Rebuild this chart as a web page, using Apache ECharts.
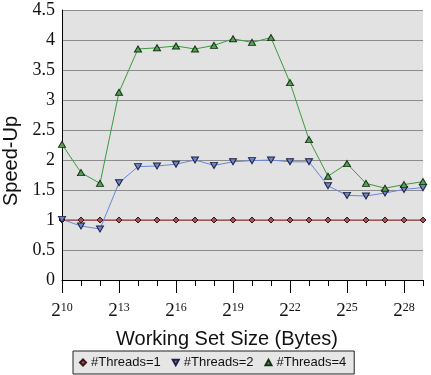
<!DOCTYPE html>
<html>
<head>
<meta charset="utf-8">
<script src="https://cdn.jsdelivr.net/npm/echarts@6/dist/echarts.min.js"></script>
<style>html,body{margin:0;padding:0;background:#fff;}#c{width:431px;height:375px;}</style>
</head>
<body>
<div id="c"></div>
<script>
const exponents = [10,11,12,13,14,15,16,17,18,19,20,21,22,23,24,25,26,27,28,29];
const threads1 = [1,1,1,1,1,1,1,1,1,1,1,1,1,1,1,1,1,1,1,1];
const threads2 = [1.01,0.90,0.85,1.62,1.89,1.90,1.93,2.00,1.91,1.97,1.99,2.00,1.97,1.97,1.57,1.41,1.40,1.45,1.51,1.54];
const threads4 = [2.26,1.79,1.61,3.13,3.85,3.87,3.90,3.85,3.91,4.02,3.96,4.04,3.29,2.34,1.73,1.94,1.61,1.53,1.59,1.64];
const yTicks = [0,0.5,1,1.5,2,2.5,3,3.5,4,4.5];
const seriesNames = ['#Threads=1','#Threads=2','#Threads=4'];

const chart = echarts.init(document.getElementById('c'), null, {renderer:'canvas'});
const serif = 'Liberation Serif';
const sans = 'Liberation Sans';
const downTri = 'path://M0,0L10,0L5,9Z';
const upTri = 'path://M5,0L10,9L0,9Z';
chart.setOption({
  animation: false,
  backgroundColor: '#ffffff',
  grid: {left: 62, right: 8, top: 10, bottom: 95, show: true, backgroundColor: '#e2e2e2', borderWidth: 0},
  xAxis: [{
    type: 'category', data: exponents, boundaryGap: false,
    axisLine: {lineStyle: {color: '#000', width: 1}},
    axisTick: {show: true, interval: 0, length: 6, lineStyle: {color: '#000'}},
    axisLabel: {
      interval: 2, margin: 22,
      formatter: v => '{b|2}{s|' + v + '}',
      rich: {
        b: {fontFamily: serif, fontSize: 19, color: '#111', verticalAlign: 'bottom'},
        s: {fontFamily: serif, fontSize: 12, color: '#111', verticalAlign: 'top', padding: [0,0,5,0]}
      }
    },
    splitLine: {show: false}
  },{
    type: 'category', data: exponents, boundaryGap: false, position: 'bottom',
    axisLine: {show: false},
    axisTick: {show: true, interval: 2, length: 13, lineStyle: {color: '#000'}},
    axisLabel: {show: false},
    splitLine: {show: false}
  }],
  yAxis: {
    type: 'value', min: yTicks[0], max: yTicks[yTicks.length-1], interval: 0.5,
    axisLine: {show: true, lineStyle: {color: '#000', width: 1}},
    axisTick: {show: false},
    axisLabel: {fontFamily: serif, fontSize: 18, color: '#111', margin: 7},
    splitLine: {show: true, lineStyle: {color: '#8c8c8c', width: 1}}
  },
  legend: {
    left: 73, top: 351,
    padding: [5,8,5,6], itemGap: 11, itemWidth: 6, itemHeight: 6,
    backgroundColor: '#e6e6e6', borderColor: '#222', borderWidth: 1,
    textStyle: {fontFamily: sans, fontSize: 13, color: '#111'},
    data: [
      {name: seriesNames[0], icon: 'diamond'},
      {name: seriesNames[1], icon: downTri},
      {name: seriesNames[2], icon: upTri}
    ]
  },
  graphic: [
    {type: 'text', x: 11, y: 161, rotation: Math.PI/2,
     style: {text: 'Speed-Up', font: '20px "Liberation Sans"', fill: '#111', textAlign: 'center', textVerticalAlign: 'middle'}},
    {type: 'text', x: 227, y: 339,
     style: {text: 'Working Set Size (Bytes)', font: '20px "Liberation Sans"', fill: '#111', textAlign: 'center', textVerticalAlign: 'middle'}}
  ],
  series: [
    {name: seriesNames[0], type: 'line', data: threads1, symbol: 'diamond', symbolSize: 6,
     itemStyle: {color: '#a05252', borderColor: '#3a1515', borderWidth: 1},
     lineStyle: {color: '#b22222', width: 1}},
    {name: seriesNames[1], type: 'line', data: threads2, symbol: downTri, symbolSize: [7,6],
     itemStyle: {color: '#6f85c6', borderColor: '#1c2040', borderWidth: 1},
     lineStyle: {color: '#6a84dd', width: 1}},
    {name: seriesNames[2], type: 'line', data: threads4, symbol: upTri, symbolSize: [7,6],
     itemStyle: {color: '#5a9e5a', borderColor: '#143214', borderWidth: 1},
     lineStyle: {color: '#3c9a3c', width: 1}}
  ]
});
</script>
</body>
</html>
